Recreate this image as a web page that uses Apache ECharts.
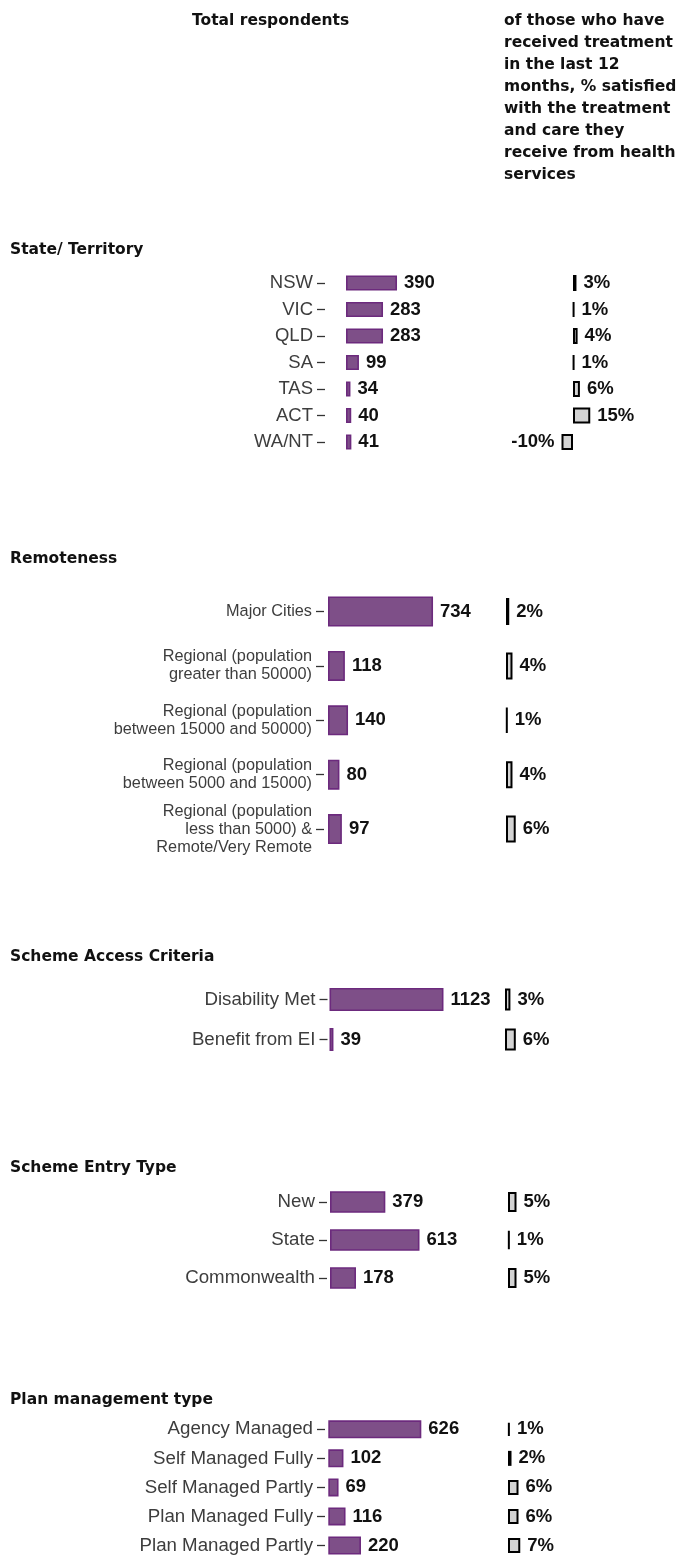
<!DOCTYPE html>
<html>
<head>
<meta charset="utf-8">
<script src="https://cdn.jsdelivr.net/npm/echarts@6/dist/echarts.min.js"></script>
<style>
html,body{margin:0;padding:0;background:#fff;}
#chart{width:681px;height:1560px;}
</style>
</head>
<body>
<div id="chart"></div>
<script>
// ---- data ----
const headerLeft = 'Total respondents';
const headerRight = 'of those who have\nreceived treatment\nin the last 12\nmonths, % satisfied\nwith the treatment\nand care they\nreceive from health\nservices';
const sectionTitles = ['State/ Territory', 'Remoteness', 'Scheme Access Criteria', 'Scheme Entry Type', 'Plan management type'];

const stateCats = ['NSW', 'VIC', 'QLD', 'SA', 'TAS', 'ACT', 'WA/NT'];
const stateCounts = [390, 283, 283, 99, 34, 40, 41];
const statePct = [3, 1, 4, 1, 6, 15, -10];

const remoteCats = ['Major Cities', 'Regional (population\ngreater than 50000)', 'Regional (population\nbetween 15000 and 50000)', 'Regional (population\nbetween 5000 and 15000)', 'Regional (population\nless than 5000) &\nRemote/Very Remote'];
const remoteCounts = [734, 118, 140, 80, 97];
const remotePct = [2, 4, 1, 4, 6];

const accessCats = ['Disability Met', 'Benefit from EI'];
const accessCounts = [1123, 39];
const accessPct = [3, 6];

const entryCats = ['New', 'State', 'Commonwealth'];
const entryCounts = [379, 613, 178];
const entryPct = [5, 1, 5];

const planCats = ['Agency Managed', 'Self Managed Fully', 'Self Managed Partly', 'Plan Managed Fully', 'Plan Managed Partly'];
const planCounts = [626, 102, 69, 116, 220];
const planPct = [1, 2, 6, 6, 7];

// ---- layout (positions & styles only) ----
const layouts = [
  {titleY: 250, firstRow: 283, band: 26.5, axisX: 325, zero: 346, scale: 0.1308, bw: 15, gzero: 573, gscale: 1.15, gbw: 16, fs: 18.5, lh: 20},
  {titleY: 559, firstRow: 611.5, band: 54.4, axisX: 324, zero: 328, scale: 0.1431, bw: 30, gzero: 506, gscale: 1.62, gbw: 27, fs: 16.3, lh: 18},
  {titleY: 957, firstRow: 999.5, band: 40, axisX: 327.5, zero: 329.5, scale: 0.1015, bw: 23, gzero: 505, gscale: 1.8, gbw: 22, fs: 18.7, lh: 20},
  {titleY: 1168, firstRow: 1202, band: 38, axisX: 327, zero: 330, scale: 0.146, bw: 21.5, gzero: 508, gscale: 1.7, gbw: 20, fs: 18.7, lh: 20},
  {titleY: 1400, firstRow: 1430, band: 30.4, axisX: 325, zero: 328.3, scale: 0.1486, bw: 18, gzero: 508, gscale: 1.75, gbw: 15, fs: 18.7, lh: 20}
];
const sectionData = [
  [stateCats, stateCounts, statePct],
  [remoteCats, remoteCounts, remotePct],
  [accessCats, accessCounts, accessPct],
  [entryCats, entryCounts, entryPct],
  [planCats, planCounts, planPct]
];

const titleFont = {fontFamily: 'DejaVu Sans', fontWeight: 'bold', fontSize: 15.5, color: '#111', lineHeight: 22};
const valueFont = {fontFamily: 'Liberation Sans', fontWeight: 'bold', fontSize: 18.5, color: '#111'};
const TICK = 8;

const titles = [
  {text: headerLeft, left: 192, top: 10, padding: 0, textStyle: titleFont},
  {text: headerRight, left: 504, top: 10, padding: 0, textStyle: titleFont}
];
const grids = [], xAxes = [], yAxes = [], series = [];
const XMAX = 1500;

sectionData.forEach(function (d, i) {
  const cats = d[0], counts = d[1], pcts = d[2];
  const L = layouts[i];
  titles.push({text: sectionTitles[i], left: 10, top: L.titleY - 11, padding: 0, textStyle: titleFont});
  const top = L.firstRow - L.band / 2;
  const height = L.band * cats.length;
  const gi = grids.length;
  const xmin = -(L.zero - L.axisX) / L.scale;
  grids.push({left: L.axisX, top: top, width: L.scale * (XMAX - xmin), height: height, containLabel: false});
  grids.push({left: L.gzero - 20 * L.gscale, top: top, width: 40 * L.gscale, height: height, containLabel: false});
  xAxes.push({gridIndex: gi, type: 'value', min: xmin, max: XMAX, show: false});
  xAxes.push({gridIndex: gi + 1, type: 'value', min: -20, max: 20, show: false});
  yAxes.push({
    gridIndex: gi, type: 'category', data: cats, inverse: true, position: 'left',
    axisLine: {show: false, onZero: false},
    axisTick: {show: true, length: TICK, alignWithLabel: true, lineStyle: {color: '#333', width: 1.3}},
    axisLabel: {fontFamily: 'Liberation Sans', fontSize: L.fs, color: '#3d3d3d', margin: TICK + 4, lineHeight: L.lh, align: 'right'},
    splitLine: {show: false}
  });
  yAxes.push({gridIndex: gi + 1, type: 'category', data: cats, inverse: true, show: false});
  series.push({
    type: 'bar', xAxisIndex: gi, yAxisIndex: gi, data: counts, barWidth: L.bw, clip: false,
    itemStyle: {color: '#7e4f88', borderColor: '#6c2a7d', borderWidth: 1.6},
    label: Object.assign({show: true, position: 'right', distance: 7}, valueFont),
    emphasis: {disabled: true}, animation: false
  });
  series.push({
    type: 'bar', xAxisIndex: gi + 1, yAxisIndex: gi + 1, barWidth: L.gbw, clip: false,
    data: pcts.map(function (v) { return {value: v, label: {position: v < 0 ? 'left' : 'right'}}; }),
    itemStyle: {color: '#d3d3d3', borderColor: '#000', borderWidth: 2},
    label: Object.assign({show: true, distance: 7, formatter: '{c}%'}, valueFont),
    emphasis: {disabled: true}, animation: false
  });
});

const chart = echarts.init(document.getElementById('chart'), null, {renderer: 'canvas'});
chart.setOption({
  backgroundColor: '#fff',
  animation: false,
  title: titles,
  grid: grids,
  xAxis: xAxes,
  yAxis: yAxes,
  series: series
});
</script>
</body>
</html>
